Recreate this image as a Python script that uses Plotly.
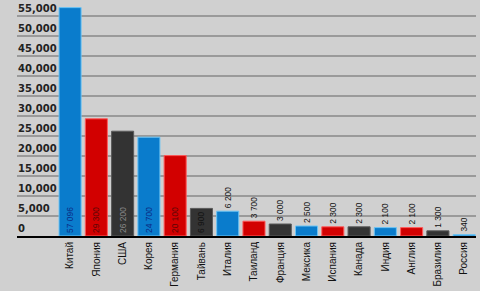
import plotly.graph_objects as go

countries = ["Китай", "Япония", "США", "Корея", "Германия", "Тайвань", "Италия", "Таиланд",
             "Франция", "Мексика", "Испания", "Канада", "Индия", "Англия", "Бразилия", "Россия"]
values = [57096, 29300, 26200, 24700, 20100, 6900, 6200, 3700, 3000, 2500, 2300, 2300, 2100, 2100, 1300, 340]
value_labels = ["57 096", "29 300", "26 200", "24 700", "20 100", "6 900", "6 200", "3 700",
                "3 000", "2 500", "2 300", "2 300", "2 100", "2 100", "1 300", "340"]
y_ticks = [0, 5000, 10000, 15000, 20000, 25000, 30000, 35000, 40000, 45000, 50000, 55000]
y_tick_text = ["0", "5,000", "10,000", "15,000", "20,000", "25,000", "30,000", "35,000",
               "40,000", "45,000", "50,000", "55,000"]

palette = {"blue": "#0a7ccc", "red": "#d20000", "dark": "#333333"}
edge = {"blue": "#6cc4f4", "red": "#ff5a5a", "dark": "#5a5a5a"}
inside_txt = {"blue": "#0a2c86", "red": "#5a0606", "dark": "#8a8a8a"}
cycle = ["blue", "red", "dark"]
kinds = [cycle[i % 3] for i in range(len(countries))]

positions = ["inside" if v > 6500 else "outside" for v in values]
txt_colors = []
for k, p, v in zip(kinds, positions, values):
    if p == "outside" or v < 10000:
        txt_colors.append("#111111")
    else:
        txt_colors.append(inside_txt[k])

fig = go.Figure(go.Bar(
    x=countries, y=values,
    width=0.84,
    marker=dict(color=[palette[k] for k in kinds],
                line=dict(color=[edge[k] for k in kinds], width=1)),
    text=value_labels,
    textposition=positions,
    insidetextanchor="start",
    textangle=-90,
    textfont=dict(family="Liberation Sans Narrow, Liberation Sans, Arial", size=10, color=txt_colors),
    cliponaxis=False,
    hoverinfo="skip",
))

# y tick labels: left-aligned, sitting just above their gridlines
for v, t in zip(y_ticks, y_tick_text):
    fig.add_annotation(
        x=0, xref="paper", xanchor="left",
        y=v, yref="y", yanchor="bottom",
        text=t, showarrow=False, borderpad=0, yshift=1,
        font=dict(family="DejaVu Sans", size=10, color="#222222", weight="bold"),
    )

fig.update_layout(
    width=480, height=291,
    margin=dict(l=17, r=4, t=4, b=55, autoexpand=False),
    paper_bgcolor="#d0d0d0",
    plot_bgcolor="#d0d0d0",
    showlegend=False,
    uniformtext=dict(minsize=6, mode="show"),
)
fig.update_xaxes(
    range=[-2.02, 15.45],
    tickangle=-90,
    tickfont=dict(family="Liberation Sans Narrow, Liberation Sans, Arial", size=10, color="#111111"),
    showline=True, linecolor="#000000", linewidth=2,
    showgrid=False, ticks="", ticklen=0,
    automargin=False,
    fixedrange=True,
)
fig.update_yaxes(
    range=[0, 58000],
    tickvals=y_ticks,
    showticklabels=False,
    showgrid=True, gridcolor="#9a9a9a", gridwidth=2,
    zeroline=False, showline=False, ticks="",
    automargin=False,
    fixedrange=True,
)

fig.write_html(
    "out.html",
    config={"displayModeBar": False},
    post_script="document.body.style.margin='0';document.body.style.overflow='hidden';document.body.style.background='#d0d0d0';",
)
